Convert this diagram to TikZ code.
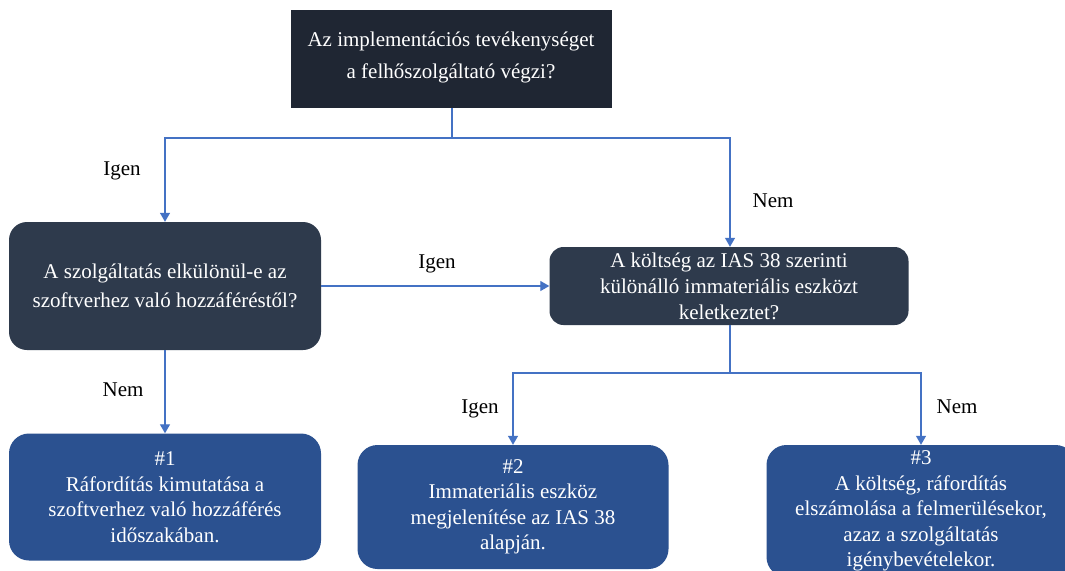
\documentclass[tikz,border=0pt]{standalone}
\usepackage{fontspec}
\setmainfont{Liberation Serif}
\usetikzlibrary{arrows.meta}
\definecolor{topc}{HTML}{1F2633}
\definecolor{darkc}{HTML}{2E3A4C}
\definecolor{bluec}{HTML}{2B5190}
\definecolor{linec}{HTML}{4472C4}
\tikzset{
  base/.style={text=white, align=center, inner sep=0pt, font=\fontsize{21}{25.5}\selectfont},
  topbox/.style={base, fill=topc, font=\fontsize{21}{32}\selectfont},
  qbox/.style={base, fill=darkc, rounded corners=18pt},
  rbox/.style={base, fill=bluec, rounded corners=20pt},
  conn/.style={draw=linec, line width=1.2pt},
  arr/.style={conn, -{Triangle[width=10pt,length=9pt]}},
  lbl/.style={text=black, inner sep=0pt, font=\fontsize{21}{23}\selectfont}
}
\begin{document}
\begin{tikzpicture}[x=1pt,y=-1pt]
\useasboundingbox (0,0) rectangle (1065,570);
\clip (0,0) rectangle (1065,570);
\fill[white] (0,0) rectangle (1065,570);
\node[topbox, minimum width=321pt, minimum height=98pt, text depth=8pt] (top) at (451,59)
  {Az implementációs tevékenységet\\a felhőszolgáltató végzi?};
\node[qbox, minimum width=312pt, minimum height=128pt, font=\fontsize{21}{29}\selectfont] (left) at (165,286)
  {A szolgáltatás elkülönül-e az\\szoftverhez való hozzáféréstől?};
\node[qbox, rounded corners=14pt, minimum width=359pt, minimum height=78pt, font=\fontsize{21}{26}\selectfont] (right) at (729,286)
  {A költség az IAS 38 szerinti\\különálló immateriális eszközt\\keletkeztet?};
\node[rbox, minimum width=312pt, minimum height=127pt] (n1) at (165,497)
  {\#1\\Ráfordítás kimutatása a\\szoftverhez való hozzáférés\\időszakában.};
\node[rbox, minimum width=311pt, minimum height=124pt] (n2) at (513,507)
  {\#2\\Immateriális eszköz\\megjelenítése az IAS 38\\alapján.};
\node[rbox, minimum width=309pt, minimum height=132pt] (n3) at (921,511)
  {\#3\\A költség, ráfordítás\\elszámolása a felmerülésekor,\\azaz a szolgáltatás\\igénybevételekor.};
\coordinate (j1) at (452,138);
\coordinate (j2) at (730,373);
\draw[conn] (top.south -| j1) -- (j1);
\draw[arr] (j1) -| (left.north);
\draw[arr] (j1) -| (right.north -| j2);
\draw[arr] (left.east) -- (right.west);
\draw[arr] (left.south) -- (n1.north);
\draw[conn] (right.south -| j2) -- (j2);
\draw[arr] (j2) -| (n2.north);
\draw[arr] (j2) -| (n3.north);
\node[lbl] (l1) at (122,171) {Igen};
\node[lbl] (l2) at (773,201) {Nem};
\node[lbl] (l3) at (437,264) {Igen};
\node[lbl] (l4) at (123,390) {Nem};
\node[lbl] (l5) at (480,409) {Igen};
\node[lbl] (l6) at (957,407) {Nem};
\end{tikzpicture}
\end{document}
